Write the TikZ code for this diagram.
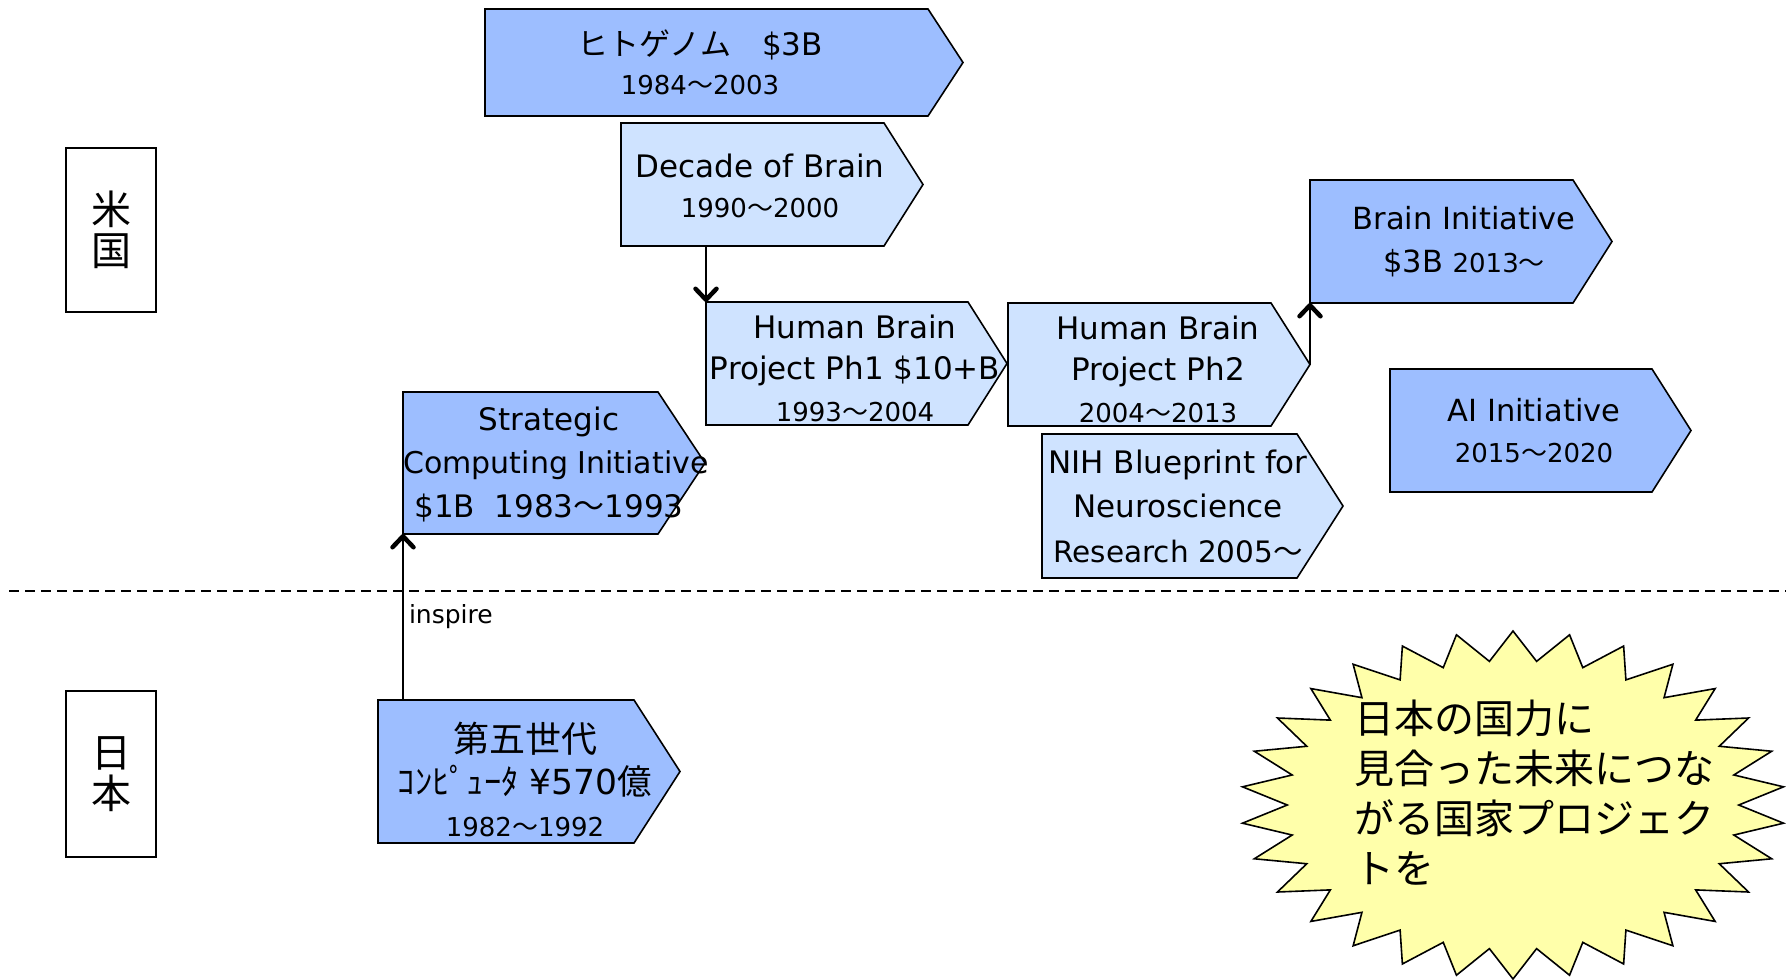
\documentclass[tikz,border=0pt]{standalone}
\usepackage{fontspec}
\setmainfont{DejaVu Sans}
\newfontfamily\jpfont{Noto Sans CJK JP}
\usetikzlibrary{arrows.meta,calc}

\definecolor{deepblue}{RGB}{157,190,255}
\definecolor{paleblue}{RGB}{207,227,255}
\definecolor{burstyellow}{RGB}{255,255,170}

\newcommand\jp[1]{{\jpfont #1}}
\newcommand\fs[2]{\fontsize{#1}{#2}\selectfont}

\tikzset{
  stageshape/.style={inner sep=0pt, outer sep=0pt, draw=none},
  outline/.style={draw=black, line width=1.6pt, line join=miter},
  stagetext/.style={inner sep=0pt, align=center},
  link/.style={line width=2pt,
    -{Straight Barb[length=11pt,width=21pt,line width=4.5pt,round]}},
  region/.style={draw, line width=1.8pt, inner sep=0pt, minimum width=90pt,
    align=center, font=\jpfont\fs{40}{41}},
  burst/.style={draw=black, line width=1.6pt, fill=burstyellow, line join=miter},
  separator/.style={line width=1.5pt, dash pattern=on 10pt off 6pt},
}

% stage shape: name, left, top, right end of body, bottom, tip length, fill
\newcommand\stagebox[7]{%
  \node[stageshape, anchor=north west, minimum width={(#4-#2)*1pt},
        minimum height={(#5-#3)*1pt}] (#1) at (#2,#3) {};
  \coordinate (#1-tip) at ($(#1.east)+(#6,0)$);
  \filldraw[outline, fill=#7] (#1.north west) -- (#1.north east) -- (#1-tip)
    -- (#1.south east) -- (#1.south west) -- cycle;
}

\begin{document}
\begin{tikzpicture}[x=1pt, y=-1pt]
\useasboundingbox (0,0) rectangle (1786,980);

% country labels
\node[region, minimum height=164pt] (us) at (111,230) {米\\国};
\node[region, minimum height=166pt] (jpn) at (111,774) {日\\本};

% border between the two countries
\coordinate (sepL) at (9,591);
\coordinate (sepR) at (1786,591);
\draw[separator] (sepL) -- (sepR);

% project shapes
\stagebox{hgp}{485}{9}{928}{116}{35}{deepblue}
\stagebox{decade}{621}{123}{884}{246}{39}{paleblue}
\stagebox{ph1}{706}{302}{968}{425}{39}{paleblue}
\stagebox{ph2}{1008}{303}{1271}{426}{39}{paleblue}
\stagebox{brain}{1310}{180}{1573}{303}{39}{deepblue}
\stagebox{ai}{1390}{369}{1652}{492}{39}{deepblue}
\stagebox{nih}{1042}{434}{1297}{578}{46}{paleblue}
\stagebox{strat}{403}{392}{658}{534}{47}{deepblue}
\stagebox{gosei}{378}{700}{634}{843}{46}{deepblue}

% project texts
\node[stagetext, font=\fs{31}{39}] (hgp-text) at (700,62)
  {\jp{ヒトゲノム　}\$3B\\{\fs{26}{39}1984\jp{〜}2003}};
\node[stagetext, font=\fs{31}{40}] (decade-text) at (760,186)
  {Decade of Brain\\{\fs{26}{40}1990\jp{〜}2000}};
\node[stagetext, font=\fs{31}{41.5}] (ph1-text) at (855,368)
  {Human Brain\\Project Ph1 \$10+B\\{\fs{26}{41.5}1993\jp{〜}2004}};
\node[stagetext, font=\fs{31}{41.5}] (ph2-text) at (1158,369)
  {Human Brain\\Project Ph2\\{\fs{26}{41.5}2004\jp{〜}2013}};
\node[stagetext, font=\fs{30.5}{43}] (brain-text) at (1464,242)
  {Brain Initiative\\\$3B {\fs{26}{43}2013\jp{〜}}};
\node[stagetext, font=\fs{30.5}{41}] (ai-text) at (1534,431)
  {AI Initiative\\{\fs{26}{41}2015\jp{〜}2020}};
\node[stagetext, font=\fs{31}{44.5}] (nih-text) at (1178,506)
  {NIH Blueprint for\\Neuroscience\\{\fs{29.5}{44.5}Research 2005\jp{〜}}};
\node[stagetext, font=\fs{31}{43.5}] (strat-text) at (549,464)
  {Strategic\\{\fs{30}{43.5}\hspace*{14pt}Computing Initiative}\\\$1B\ \ 1983\jp{〜}1993};
\node[stagetext, font=\fs{36}{42}] (gosei-text) at (525,779)
  {\jp{第五世代}\\{\fs{34.5}{42}\jp{ｺﾝﾋﾟｭｰﾀ} ¥570\jp{億}}\\{\fs{26}{42}1982\jp{〜}1992}};

% influences
\draw[link] (ph1.north west |- decade.south) -- (ph1.north west);
\draw[link] (ph2-tip) -- (brain.south west);
\draw[link] (strat.south west |- gosei.north) --
  node[midway, anchor=west, inner sep=5pt, font=\fs{25}{30}] (inspire) {inspire}
  (strat.south west);

% call-out star
\filldraw[burst] (1513,631)
  \foreach \i [evaluate=\i as \r using {1-0.17*mod(\i,2)}] in {1,...,59}
    { -- ({1513+272*\r*cos(90+6*\i)}, {805-174*\r*sin(90+6*\i)}) } -- cycle;
\node[anchor=west, align=left, inner sep=0pt, font=\jpfont\fs{40}{50}] (burst-text)
  at (1354,793) {日本の国力に\\見合った未来につな\\がる国家プロジェク\\トを};
\end{tikzpicture}
\end{document}
